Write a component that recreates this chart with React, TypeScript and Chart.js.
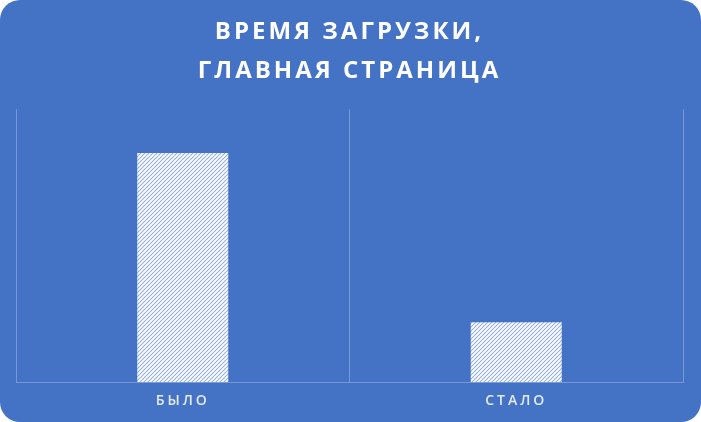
import React, { useEffect, useRef } from "react";
import { Chart, registerables } from "chart.js";

Chart.register(...registerables);

const categories = ["БЫЛО", "СТАЛО"];
const loadTimes = [4.2, 1.1];
const titleLines = ["ВРЕМЯ ЗАГРУЗКИ,", "ГЛАВНАЯ СТРАНИЦА"];

const BG = "#4472C4";

function makeHatch(): CanvasPattern | string {
  const size = 4;
  const c = document.createElement("canvas");
  c.width = size;
  c.height = size;
  const g = c.getContext("2d");
  if (!g) return "#ffffff";
  g.fillStyle = "#8caae0";
  g.fillRect(0, 0, size, size);
  g.strokeStyle = "#ffffff";
  g.lineWidth = 1.9;
  g.beginPath();
  g.moveTo(-1, size + 1);
  g.lineTo(size + 1, -1);
  g.moveTo(-1, 1);
  g.lineTo(1, -1);
  g.moveTo(size - 1, size + 1);
  g.lineTo(size + 1, size - 1);
  g.stroke();
  const p = g.createPattern(c, "repeat");
  return p || "#ffffff";
}

const spacingPlugin = {
  id: "letterSpacing",
  beforeDraw(chart: any) {
    (chart.ctx as any).letterSpacing = "3px";
  },
};

export default function App() {
  const ref = useRef<HTMLCanvasElement | null>(null);
  useEffect(() => {
    if (!ref.current) return;
    const hatch = makeHatch();
    const grid = "rgba(255,255,255,0.28)";
    const chart = new Chart(ref.current, {
      type: "bar",
      data: {
        labels: categories,
        datasets: [
          {
            data: loadTimes,
            backgroundColor: hatch as any,
            borderWidth: 0,
            categoryPercentage: 1,
            barPercentage: 0.273,
          },
        ],
      },
      options: {
        animation: false,
        responsive: false,
        maintainAspectRatio: false,
        layout: { padding: { left: 16, right: 18, top: 0, bottom: 3 } },
        plugins: {
          legend: { display: false },
          tooltip: { enabled: false },
          title: {
            display: true,
            text: titleLines,
            color: "#ffffff",
            font: { family: "'Open Sans', sans-serif", size: 24, weight: "bold", lineHeight: 1.65 },
            padding: { top: 12, bottom: 18 },
          },
        },
        scales: {
          x: {
            grid: { color: grid, lineWidth: 1, drawTicks: false, offset: true },
            border: { color: grid, width: 1 },
            ticks: {
              color: "rgba(255,255,255,0.85)",
              padding: 10,
              font: { family: "'Open Sans', sans-serif", size: 14, weight: 600 },
            },
          },
          y: {
            display: false,
            min: 0,
            max: 5,
          },
        },
      },
      plugins: [spacingPlugin],
    });
    return () => chart.destroy();
  }, []);
  return (
    <div
      style={{
        position: "fixed",
        left: 0,
        top: 0,
        width: 701,
        height: 422,
        background: BG,
        borderRadius: 20,
        overflow: "hidden",
      }}
    >
      <canvas ref={ref} width={701} height={422} style={{ display: "block", width: 701, height: 422 }} />
    </div>
  );
}
